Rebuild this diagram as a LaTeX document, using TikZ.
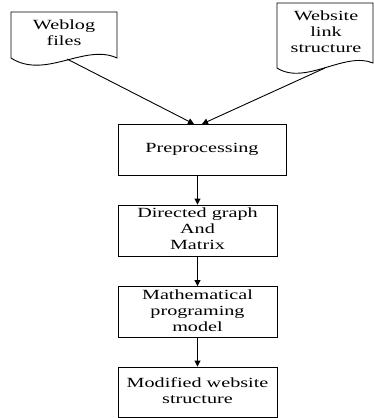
\documentclass[tikz,border=0pt]{standalone}
\usepackage{fontspec}
\setmainfont{Liberation Serif}
\usetikzlibrary{arrows.meta}
% text set in a horizontally stretched serif
\newcommand{\widetxt}[1]{\scalebox{1.44}[1]{\fontsize{14}{16}\selectfont\begin{tabular}{@{}c@{}}#1\end{tabular}}}
\begin{document}
\begin{tikzpicture}[x=1pt,y=-1pt,
  line width=0.9pt,
  stagebox/.style={draw, rectangle, inner sep=0pt, minimum height=51pt},
  doctext/.style={inner sep=0pt},
  arr/.style={-{Triangle[length=6pt,width=6pt]}}]
\useasboundingbox (0,0) rectangle (374,418);
\fill[white] (0,0) rectangle (374,418);

% document shapes with wavy bottom edge
\draw (11,12) -- (117,12) -- (117,58) .. controls (85,43) and (45,80) .. (11,58) -- cycle;
\draw (277,3) -- (373,3) -- (373,63) .. controls (345,51) and (305,86) .. (277,68) -- cycle;
\node[doctext] (weblog) at (64,34) {\widetxt{Weblog\\files}};
\node[doctext] (website) at (326,33) {\widetxt{Website\\link\\structure}};
\coordinate (weblogout) at (67,59);
\coordinate (websiteout) at (325,68);

% processing stages
\node[stagebox, minimum width=168pt] (pre) at (202,149.5) {\widetxt{Preprocessing}};
\node[stagebox, minimum width=159pt] (graph) at (197.5,230.5) {\widetxt{Directed graph\\And\\Matrix}};
\node[stagebox, minimum width=159pt] (model) at (197.5,312) {\widetxt{Mathematical\\programing\\model}};
\node[stagebox, minimum width=159pt, minimum height=50pt] (result) at (197.5,392) {\widetxt{Modified website\\structure}};

% connectors
\coordinate (inL) at (194,124);
\coordinate (inR) at (202,124);
\draw[arr] (weblogout) -- (inL);
\draw[arr] (websiteout) -- (inR);
\draw[arr] (graph.north |- pre.south) -- (graph.north);
\draw[arr] (graph.south) -- (model.north);
\draw[arr] (model.south) -- (result.north);
\end{tikzpicture}
\end{document}
